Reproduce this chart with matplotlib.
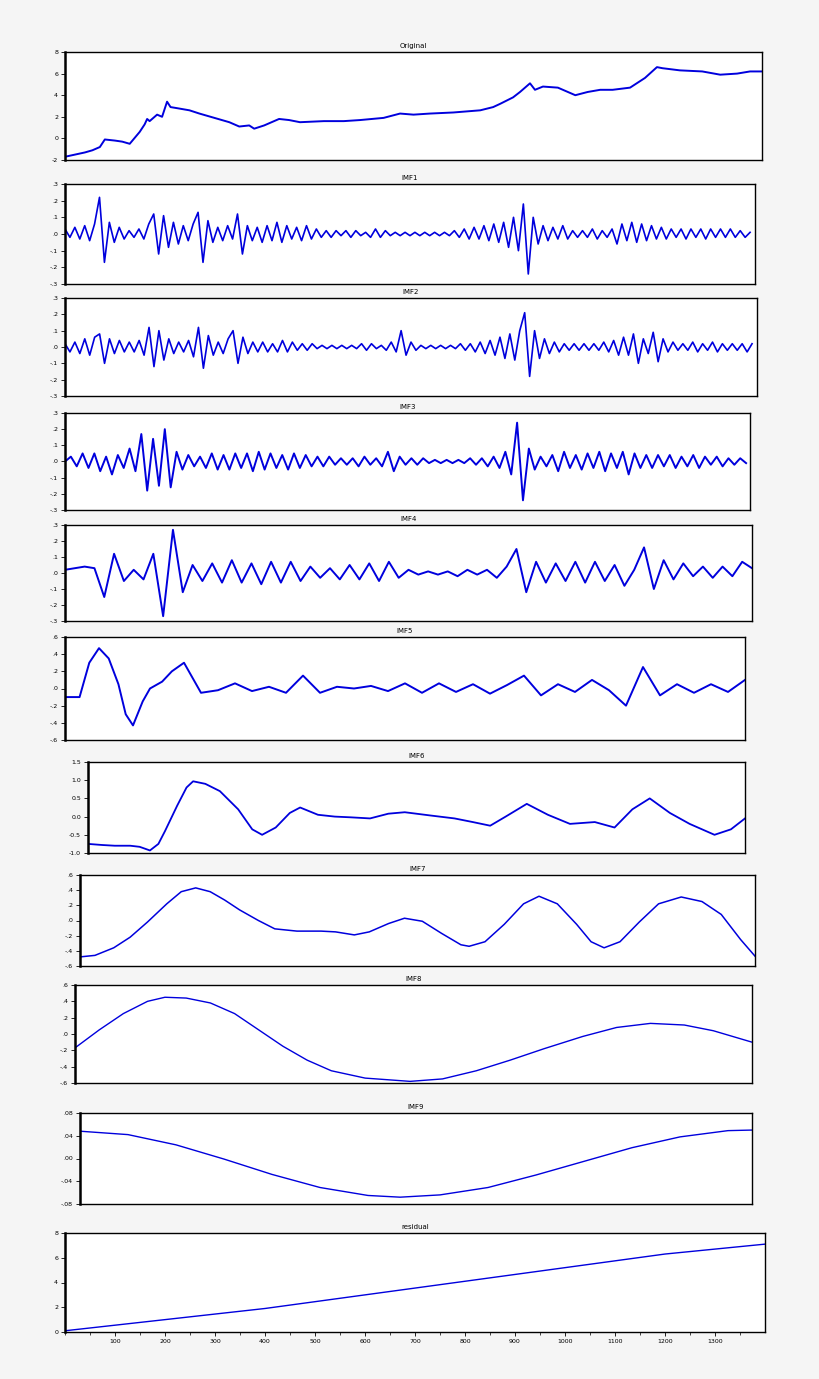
import numpy as np
import matplotlib
matplotlib.use("Agg")
import matplotlib.pyplot as plt

W, H = 820, 1379
BG = "#f5f5f5"
BLUE = "#0000dd"

orig_x = [0,20,40,55,70,80,100,115,130,150,160,165,170,185,195,205,212,225,250,270,300,330,350,370,380,400,430,450,472,520,560,593,640,673,700,733,780,834,860,874,900,914,934,944,960,990,1025,1050,1075,1100,1135,1165,1189,1200,1235,1280,1316,1350,1376,1400]
orig_y = [-1.7,-1.5,-1.3,-1.1,-0.8,-0.1,-0.2,-0.3,-0.5,0.6,1.3,1.8,1.6,2.2,2.0,3.4,2.9,2.8,2.6,2.3,1.9,1.5,1.1,1.2,0.9,1.2,1.8,1.7,1.5,1.6,1.6,1.7,1.9,2.3,2.2,2.3,2.4,2.6,2.9,3.2,3.8,4.3,5.1,4.5,4.8,4.7,4.0,4.3,4.5,4.5,4.7,5.6,6.6,6.5,6.3,6.2,5.9,6.0,6.2,6.2]

imf1 = [.03,-.02,.04,-.03,.05,-.04,.06,.22,-.17,.07,-.05,.04,-.03,.02,-.02,.03,-.03,
 .06,.12,-.12,.11,-.08,.07,-.06,.05,-.04,.06,.13,-.17,.08,-.05,.04,-.04,.05,-.03,.12,-.12,.05,-.04,.04,-.05,.05,-.04,.07,-.05,.05,-.03,.04,-.04,.05,-.03,.03,-.02,.02,-.02,.02,-.01,.02,-.02,.02,-.01,.01,-.02,.03,-.02,.02,-.01,.01,-.01,.01,-.01,.01,-.01,.01,-.01,.01,-.01,.01,-.01,.02,-.02,.03,-.03,.04,-.03,.05,-.04,.06,-.05,.07,-.08,.10,-.10,.18,-.24,.10,-.06,.05,-.04,.04,-.03,.05,-.03,.02,-.02,.02,-.02,.03,-.03,.02,-.02,.03,-.06,.06,-.04,.07,-.05,.06,-.04,.05,-.03,.04,-.03,.03,-.02,.03,-.03,.03,-.02,.03,-.03,.03,-.02,.03,-.02,.03,-.02,.02,-.02,.01]
imf2 = [.02,-.03,.03,-.04,.05,-.05,.06,.08,-.1,.05,-.04,.04,-.03,.03,-.03,.04,-.05,.12,-.12,.1,-.08,.05,-.04,.03,-.03,.04,-.06,.12,-.13,.07,-.05,.03,-.04,.05,.1,-.1,.06,-.04,.03,-.03,.03,-.03,.02,-.03,.04,-.03,.03,-.02,.02,-.02,.02,-.01,.01,-.01,.01,-.01,.01,-.01,.01,-.01,.02,-.02,.02,-.01,.01,-.02,.03,-.03,.1,-.05,.03,-.02,.01,-.01,.01,-.01,.01,-.01,.01,-.01,.02,-.02,.02,-.03,.03,-.04,.04,-.05,.06,-.07,.08,-.08,.1,.21,-.18,.1,-.07,.05,-.04,.03,-.03,.02,-.02,.02,-.02,.02,-.02,.02,-.02,.03,-.03,.04,-.05,.06,-.05,.08,-.1,.05,-.04,.09,-.09,.05,-.03,.03,-.02,.02,-.02,.03,-.03,.02,-.02,.03,-.03,.02,-.02,.02,-.02,.02,-.03,.02]
imf3 = [.0,.03,-.03,.05,-.04,.05,-.06,.03,-.08,.04,-.04,.08,-.06,.17,-.18,.14,-.15,.2,-.16,.06,-.05,.04,-.03,.03,-.04,.05,-.05,.04,-.05,.05,-.04,.05,-.06,.06,-.05,.05,-.04,.04,-.05,.05,-.04,.04,-.03,.03,-.03,.03,-.02,.02,-.02,.02,-.03,.03,-.02,.02,-.03,.06,-.06,.03,-.02,.02,-.02,.02,-.01,.01,-.01,.01,-.01,.01,-.01,.02,-.02,.02,-.03,.03,-.04,.06,-.08,.24,-.24,.08,-.05,.03,-.03,.04,-.06,.06,-.04,.04,-.05,.05,-.04,.06,-.06,.05,-.04,.06,-.08,.05,-.04,.04,-.04,.04,-.03,.04,-.04,.03,-.03,.04,-.04,.03,-.02,.03,-.03,.02,-.02,.02,-.01]
imf4 = [.02,.03,.04,.03,-.15,.12,-.05,.02,-.04,.12,-.27,.27,-.12,.05,-.05,.06,-.06,.08,-.06,.06,-.07,.07,-.06,.07,-.05,.04,-.03,.03,-.04,.05,-.04,.06,-.05,.07,-.03,.02,-.01,.01,-.01,.01,-.02,.02,-.01,.02,-.03,.04,.15,-.12,.07,-.06,.06,-.05,.07,-.06,.07,-.05,.05,-.08,.02,.16,-.1,.08,-.04,.06,-.02,.04,-.03,.04,-.02,.07,.03]
imf5_x = [0,30,50,70,90,110,125,140,160,175,200,220,245,265,280,315,350,385,420,455,490,525,560,595,630,665,700,735,770,805,840,875,910,945,980,1015,1050,1085,1120,1155,1190,1225,1260,1295,1330,1365,1400]
imf5_y = [-.1,-.1,.3,.47,.35,.05,-.3,-.43,-.15,.0,.08,.2,.3,.1,-.05,-.02,.06,-.03,.02,-.05,.15,-.05,.02,.0,.03,-.03,.06,-.05,.06,-.04,.05,-.06,.04,.15,-.08,.05,-.04,.1,-.02,-.2,.25,-.08,.05,-.05,.05,-.04,.1]
imf6_x = [0,30,57,90,110,132,150,164,190,210,224,250,281,320,350,371,400,430,452,490,526,560,601,640,675,730,781,820,857,890,935,980,1027,1080,1122,1160,1197,1240,1282,1335,1370,1400]
imf6_y = [-.75,-.78,-.8,-.8,-.83,-.93,-.75,-.4,.3,.8,.97,.9,.7,.2,-.35,-.5,-.3,.1,.25,.05,.0,-.02,-.05,.08,.12,.03,-.05,-.15,-.25,.0,.35,.05,-.2,-.15,-.3,.2,.5,.1,-.2,-.5,-.35,-.05]
imf7_x = [0,31,70,104,140,180,210,240,270,300,331,370,404,450,500,530,569,600,640,673,710,750,790,807,840,880,920,952,990,1030,1060,1087,1120,1160,1200,1247,1290,1330,1370,1400]
imf7_y = [-.48,-.46,-.36,-.22,-.02,.22,.38,.43,.38,.27,.14,.0,-.11,-.14,-.14,-.15,-.19,-.15,-.04,.03,-.01,-.17,-.32,-.34,-.28,-.05,.22,.32,.22,-.05,-.28,-.36,-.28,-.02,.22,.31,.25,.08,-.25,-.47]
imf8_x = [0,50,100,150,186,230,280,330,380,430,480,530,600,693,760,830,900,970,1050,1120,1190,1260,1320,1400]
imf8_y = [-.17,.05,.25,.40,.45,.44,.38,.25,.05,-.15,-.32,-.45,-.54,-.58,-.55,-.45,-.32,-.18,-.03,.08,.13,.11,.04,-.1]
imf9_x = [0,100,200,300,400,500,600,667,750,850,950,1050,1150,1250,1350,1400]
imf9_y = [.048,.042,.024,-.001,-.028,-.051,-.065,-.068,-.064,-.051,-.029,-.005,.019,.038,.049,.05]
res_x = [0,200,400,600,800,1000,1200,1400]
res_y = [0.1,1.0,1.9,3.0,4.1,5.2,6.3,7.1]

def xs(vals, step):
    return np.arange(len(vals)) * step

T3 = [-.3,-.2,-.1,0,.1,.2,.3]; L3 = ["-.3","-.2","-.1",".0",".1",".2",".3"]
T6 = [-.6,-.4,-.2,0,.2,.4,.6]; L6 = ["-.6","-.4","-.2",".0",".2",".4",".6"]
panels = [
    ("Original", (65,52,762,160), orig_x, orig_y, (-2,8), [-2,0,2,4,6,8], ["-2","0","2","4","6","8"], 1.4),
    ("IMF1", (65,184,755,284), xs(imf1,10), imf1, (-.3,.3), T3, L3, 1.2),
    ("IMF2", (65,298,757,396), xs(imf2,10), imf2, (-.3,.3), T3, L3, 1.2),
    ("IMF3", (65,413,750,510), xs(imf3,12), imf3, (-.3,.3), T3, L3, 1.4),
    ("IMF4", (65,525,752,621), xs(imf4,20), imf4, (-.3,.3), T3, L3, 1.4),
    ("IMF5", (65,637,745,740), imf5_x, imf5_y, (-.6,.6), T6, L6, 1.4),
    ("IMF6", (88,762,745,853), imf6_x, imf6_y, (-1,1.5), [-1,-.5,0,.5,1,1.5], ["-1.0","-0.5","0.0","0.5","1.0","1.5"], 1.3),
    ("IMF7", (80,875,755,966), imf7_x, imf7_y, (-.6,.6), T6, L6, 1.1),
    ("IMF8", (75,985,752,1083), imf8_x, imf8_y, (-.6,.6), T6, L6, 1.0),
    ("IMF9", (80,1113,752,1204), imf9_x, imf9_y, (-.08,.08), [-.08,-.04,0,.04,.08], ["-.08","-.04",".00",".04",".08"], 1.0),
    ("residual", (65,1233,765,1332), res_x, res_y, (0,8), [0,2,4,6,8], ["0","2","4","6","8"], 1.0),
]

fig = plt.figure(figsize=(W/100, H/100), dpi=100, facecolor=BG)
for title, (x0,y0,x1,y1), x, y, ylim, yt, ytl, lw in panels:
    ax = fig.add_axes([x0/W, 1-y1/H, (x1-x0)/W, (y1-y0)/H])
    ax.set_facecolor("white")
    ax.plot(x, y, color=BLUE, lw=lw)
    ax.set_xlim(0, 1400)
    ax.set_ylim(*ylim)
    ax.set_yticks(yt)
    ax.set_yticklabels(ytl, fontsize=4.5)
    ax.tick_params(axis='y', length=3, width=0.6, pad=2)
    for s in ax.spines.values():
        s.set_linewidth(1.0)
    ax.spines['left'].set_linewidth(1.8)
    ax.set_title(title, fontsize=5, pad=3)
    if title == "residual":
        ax.set_xticks(range(100, 1400, 100))
        ax.set_xticklabels([str(v) for v in range(100, 1400, 100)], fontsize=4.5)
        ax.set_xticks(range(0, 1400, 50), minor=True)
        ax.tick_params(axis='x', length=3, width=0.6, pad=2)
        ax.tick_params(axis='x', which='minor', length=2, width=0.5)
    else:
        ax.set_xticks([])

fig.savefig("out.png", dpi=100, facecolor=BG)
